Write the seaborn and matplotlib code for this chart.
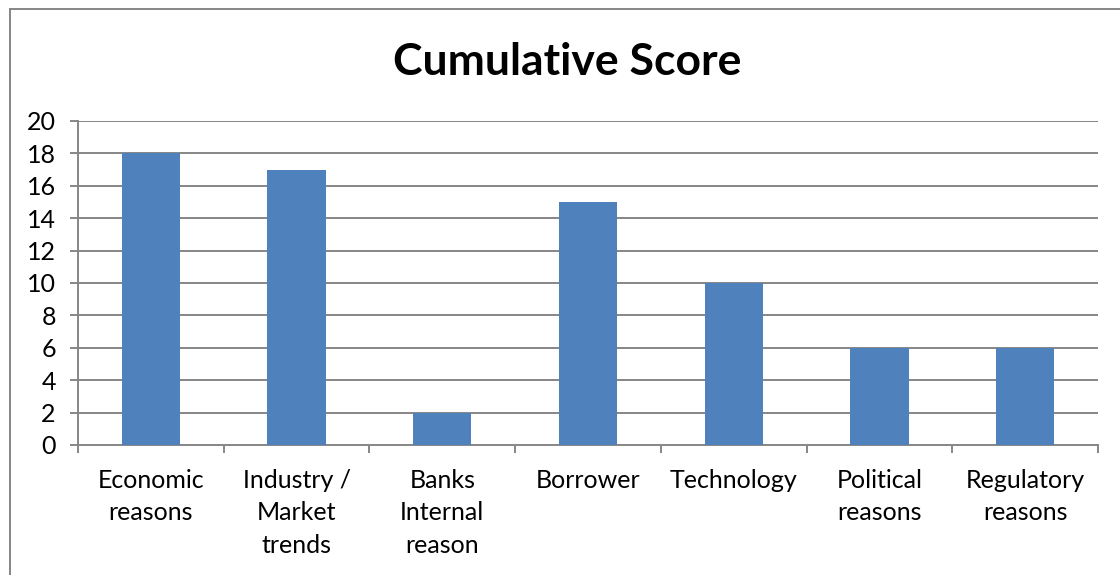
import matplotlib
matplotlib.use("Agg")
import matplotlib.pyplot as plt
from matplotlib.patches import Rectangle
import seaborn as sns
import pandas as pd
import numpy as np

categories = ["Economic\nreasons", "Industry /\nMarket\ntrends", "Banks\nInternal\nreason",
              "Borrower", "Technology", "Political\nreasons", "Regulatory\nreasons"]
scores = [18, 17, 2, 15, 10, 6, 6]
y_ticks = [0, 2, 4, 6, 8, 10, 12, 14, 16, 18, 20]

sns.set_theme(style="white")
plt.rcParams["font.family"] = ["Lato", "DejaVu Sans"]

GRID = "#868686"
BAR = "#4F81BD"
FS = 18

df = pd.DataFrame({"category": categories, "score": scores})

fig = plt.figure(figsize=(11.2, 5.75), dpi=100)
ax = fig.add_axes([78 / 1120, 1 - 445 / 575, (1098 - 78) / 1120, (445 - 121) / 575])

sns.barplot(data=df, x="category", y="score", color=BAR, width=0.4,
            saturation=1, linewidth=0, ax=ax, zorder=3)

ax.set_xlim(-0.5, len(categories) - 0.5)
ax.set_ylim(0, 20)
ax.set_yticks(y_ticks)
ax.set_xlabel("")
ax.set_ylabel("")

# horizontal gridlines
for v in y_ticks[1:]:
    ax.axhline(v, color=GRID, lw=1.4, zorder=1)
ax.tick_params(axis="y", length=6, width=1.4, color=GRID, pad=10,
               labelsize=FS, labelcolor="black", left=True)

# category boundary ticks on the x axis
ax.set_xticks(np.arange(-0.5, len(categories)), minor=True)
ax.tick_params(axis="x", which="minor", length=6, width=1.4, color=GRID,
               bottom=True, direction="out")
ax.tick_params(axis="x", which="major", length=0, pad=17,
               labelsize=FS, labelcolor="black")
for lbl in ax.get_xticklabels():
    lbl.set_linespacing(1.5)
    lbl.set_verticalalignment("top")

for side in ["top", "right"]:
    ax.spines[side].set_visible(False)
for side in ["left", "bottom"]:
    ax.spines[side].set_color(GRID)
    ax.spines[side].set_linewidth(1.4)

fig.text(567 / 1120, 1 - 62 / 575, "Cumulative Score", ha="center", va="center",
         fontsize=32, fontweight="bold", color="black")

# chart frame
fig.add_artist(Rectangle((9.5 / 1120, -0.1), 1.2, 1.1 - 8.5 / 575,
                         transform=fig.transFigure, fill=False,
                         edgecolor=GRID, lw=1.4))

fig.savefig("out.png", dpi=100, facecolor="white")
